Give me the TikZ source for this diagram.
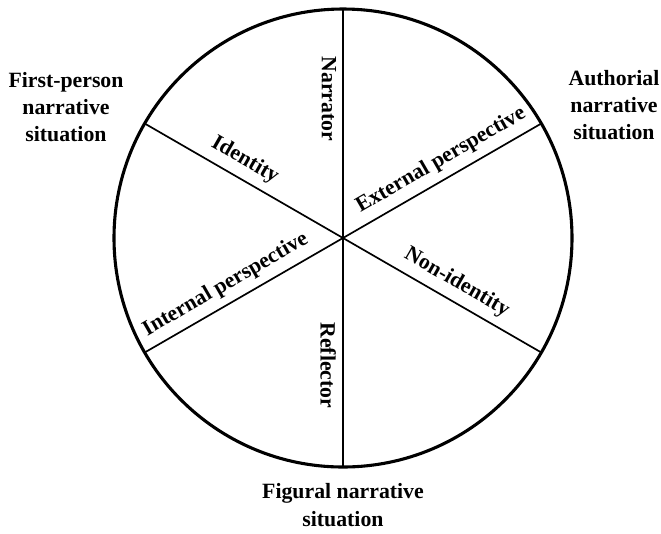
\documentclass[tikz,border=0pt]{standalone}
\usepackage{fontspec}
\setmainfont{Liberation Serif}
\begin{document}
\begin{tikzpicture}[x=2.5cm,y=2.5cm,
  lbl/.style={font=\fontsize{15.5}{19.5}\selectfont\bfseries},
  outer/.style={lbl,align=center}]
  \useasboundingbox (-3.43,-2.95) rectangle (3.18,2.38);
  \coordinate (O) at (0,0);
  % 圆周上的六个端点（90°, 270°, 150°, 330°, 210°, 30°）
  \coordinate (top) at (90:2.29);
  \coordinate (bot) at (270:2.29);
  \coordinate (ul) at (150:2.29);
  \coordinate (lr) at (330:2.29);
  \coordinate (ll) at (210:2.29);
  \coordinate (ur) at (30:2.29);
  % 外圆
  \draw[line width=2.2pt] (O) circle (2.29);
  % 竖直直径：Narrator / Reflector
  \draw[line width=1.2pt] (top) -- (bot)
    node[lbl,sloped,below=1pt,pos=0.196] (narrator) {Narrator}
    node[lbl,sloped,below=1pt,pos=0.778] (reflector) {Reflector};
  % 左上到右下：Identity / Non-identity
  \draw[line width=1.2pt] (ul) -- (lr)
    node[lbl,sloped,above=2pt,pos=0.23] (identity) {Identity}
    node[lbl,sloped,above=2pt,pos=0.764] (nonidentity) {Non-identity};
  % 左下到右上：Internal / External perspective
  \draw[line width=1.2pt] (ll) -- (ur)
    node[lbl,sloped,above=2pt,pos=0.227] (internal) {Internal perspective}
    node[lbl,sloped,above=2pt,pos=0.77] (external) {External perspective};
  % 三种叙事情境
  \node[outer] (firstperson) at (-2.77,1.31) {First-person\\narrative\\situation};
  \node[outer] (authorial) at (2.71,1.33) {Authorial\\narrative\\situation};
  \node[outer] (figural) at (0,-2.67) {Figural narrative\\situation};
\end{tikzpicture}
\end{document}
